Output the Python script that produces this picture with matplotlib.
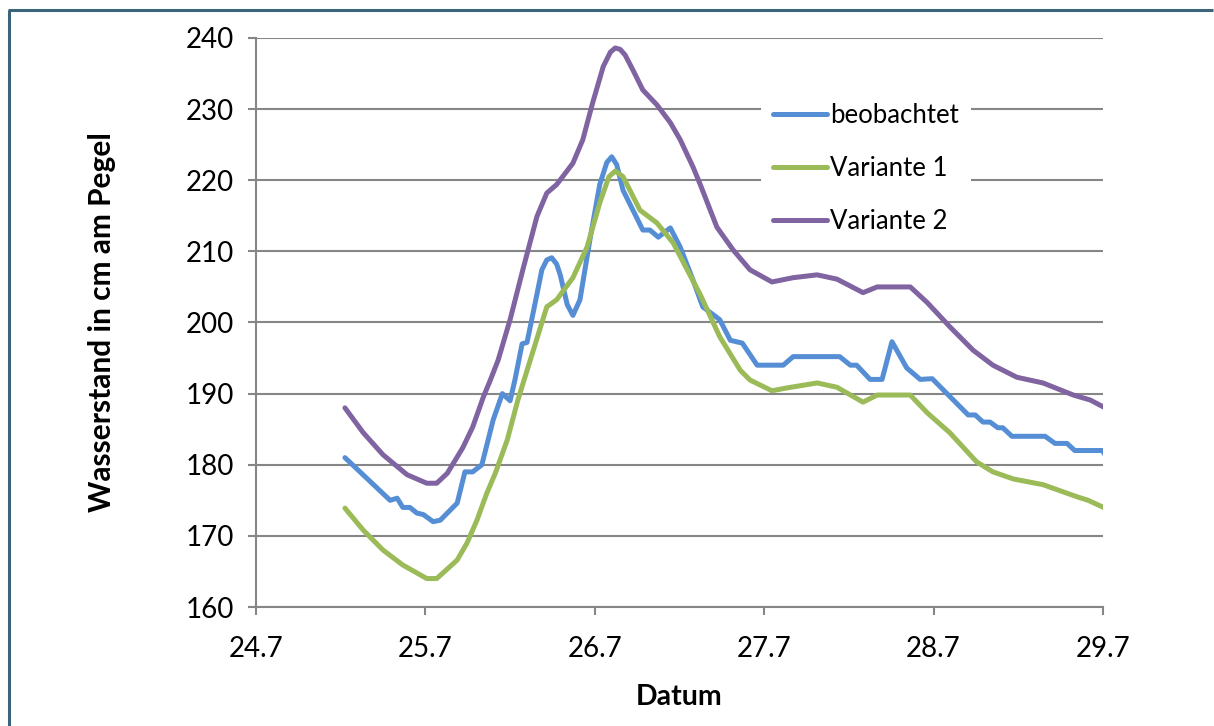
import matplotlib
matplotlib.use("Agg")
import matplotlib.pyplot as plt
from matplotlib.lines import Line2D

# Hours counted from 24.7. 00:00
hours_obs = [12.6, 19.0, 20.0, 20.8, 21.8, 22.8, 23.7, 25.1, 26.1, 28.5, 29.6, 30.7,
             32.0, 33.6, 34.9, 36.0, 36.7, 37.7, 38.4, 39.6, 40.5, 41.2, 41.9, 42.6,
             43.1, 44.1, 44.9, 45.9, 47.3, 48.7, 49.7, 50.4, 51.1, 52.0, 54.8, 55.8,
             57.0, 58.7, 60.1, 61.9, 63.3, 65.7, 67.2, 68.9, 71.0, 74.7, 76.1, 82.7,
             84.2, 85.1, 87.0, 88.7, 90.1, 92.2, 94.1, 95.8, 98.8, 100.9, 101.9, 103.0,
             104.0, 105.1, 105.8, 107.1, 111.8, 113.2, 114.9, 116.0, 119.9, 120.3]
beobachtet = [181.0, 175.0, 175.3, 174.0, 174.0, 173.2, 173.0, 172.0, 172.2, 174.6,
              179.0, 179.0, 180.0, 186.3, 190.0, 189.0, 192.0, 197.0, 197.2, 203.0,
              207.4, 208.8, 209.1, 208.2, 206.7, 202.5, 201.0, 203.2, 211.6, 219.4,
              222.5, 223.3, 222.2, 218.6, 213.0, 213.0, 212.0, 213.3, 210.6, 206.0,
              202.2, 200.4, 197.5, 197.1, 194.0, 194.0, 195.2, 195.2, 194.0, 194.0,
              192.0, 192.0, 197.3, 193.6, 192.0, 192.1, 189.1, 187.0, 187.0, 186.0,
              186.0, 185.2, 185.2, 184.0, 184.0, 183.0, 183.0, 182.0, 182.0, 181.4]

hours_v1 = [12.6, 15.2, 18.0, 20.8, 24.2, 25.6, 26.5, 28.5, 29.9, 31.3, 32.7, 33.9,
            35.6, 37.1, 41.2, 42.6, 44.9, 46.9, 48.7, 50.0, 50.9, 52.0, 54.4, 56.8,
            59.1, 61.1, 62.9, 65.7, 68.6, 70.0, 73.1, 75.2, 79.5, 82.3, 86.0, 88.0,
            92.7, 95.1, 98.3, 102.1, 104.4, 107.3, 111.5, 116.3, 117.9, 120.3]
variante_1 = [173.9, 170.8, 168.0, 165.9, 164.0, 164.0, 164.8, 166.6, 169.0, 172.2,
              176.0, 178.8, 183.5, 189.1, 202.2, 203.2, 206.3, 210.6, 216.8, 220.5,
              221.3, 220.5, 215.8, 214.0, 211.2, 207.4, 204.0, 198.0, 193.3, 191.9,
              190.4, 190.8, 191.5, 190.9, 188.8, 189.8, 189.8, 187.3, 184.5, 180.4,
              179.0, 178.0, 177.2, 175.5, 175.0, 173.9]

hours_v2 = [12.6, 15.2, 18.0, 21.4, 24.2, 25.6, 27.1, 29.3, 30.7, 32.2, 33.2, 34.3,
            36.0, 37.8, 39.8, 41.2, 42.6, 44.9, 46.3, 47.7, 49.2, 50.2, 50.9, 51.6,
            52.3, 53.4, 54.8, 56.8, 58.7, 60.1, 61.9, 62.9, 65.3, 67.6, 70.0, 73.1,
            76.1, 79.5, 82.3, 86.0, 88.0, 92.7, 95.1, 98.3, 101.6, 104.4, 107.8, 111.5,
            115.8, 118.2, 120.3]
variante_2 = [188.0, 184.5, 181.4, 178.6, 177.4, 177.4, 178.8, 182.4, 185.3, 189.5,
              191.9, 194.7, 200.4, 207.4, 214.9, 218.2, 219.4, 222.4, 225.7, 230.9,
              236.0, 238.0, 238.6, 238.4, 237.6, 235.5, 232.7, 230.6, 228.1, 225.7,
              221.9, 219.5, 213.4, 210.2, 207.4, 205.7, 206.3, 206.7, 206.1, 204.2,
              205.0, 205.0, 202.8, 199.4, 196.1, 194.0, 192.3, 191.5, 189.8, 189.1,
              188.0]

x_ticks = [0, 24, 48, 72, 96, 120]
x_labels = ["24.7", "25.7", "26.7", "27.7", "28.7", "29.7"]
y_ticks = [160, 170, 180, 190, 200, 210, 220, 230, 240]

series_names = ["beobachtet", "Variante 1", "Variante 2"]
colors = ["#558ED5", "#9BBB59", "#8064A2"]

plt.rcParams["font.family"] = ["Lato", "DejaVu Sans"]

fig = plt.figure(figsize=(12.14, 7.26), dpi=100)
ax = fig.add_axes([256 / 1214, 1 - 607 / 726, (1103 - 256) / 1214, (607 - 38) / 726])

grid_c = "#868686"
for xs, ys, name, c in zip([hours_obs, hours_v1, hours_v2],
                           [beobachtet, variante_1, variante_2],
                           series_names, colors):
    ax.plot(xs, ys, color=c, lw=3.6, label=name,
            solid_joinstyle="round", solid_capstyle="round", zorder=3)

ax.set_xlim(0, 120)
ax.set_ylim(160, 240)
ax.set_xticks(x_ticks)
ax.set_xticklabels(x_labels)
ax.set_yticks(y_ticks)
ax.yaxis.grid(True, color=grid_c, lw=1.5)
ax.set_axisbelow(True)
for s in ["top", "right"]:
    ax.spines[s].set_visible(False)
for s in ["left", "bottom"]:
    ax.spines[s].set_color(grid_c)
    ax.spines[s].set_linewidth(1.5)
ax.tick_params(axis="both", colors=grid_c, labelcolor="black", labelsize=20,
               length=6, width=1.5, direction="out")
ax.tick_params(axis="x", pad=15)
ax.tick_params(axis="y", pad=10)

ax.set_xlabel("Datum", fontsize=20.5, fontweight="bold", labelpad=16)
ax.set_ylabel("Wasserstand in cm am Pegel", fontsize=21.5, fontweight="bold",
              labelpad=50)

leg = ax.legend(loc="upper left", bbox_to_anchor=(761 / 1214, 1 - 91 / 726),
                bbox_transform=fig.transFigure, fontsize=18.5, frameon=True,
                fancybox=False, edgecolor="none", facecolor="white", framealpha=1,
                handlelength=2.1, handletextpad=0.15, labelspacing=1.1,
                borderpad=0.45, borderaxespad=0)
leg.set_zorder(5)

# outer chart frame (top and left edges)
frame_c = "#3C6478"
fig.add_artist(Line2D([8 / 1214, 0.999], [1 - 10 / 726, 1 - 10 / 726],
                      transform=fig.transFigure, color=frame_c, lw=2.2,
                      solid_capstyle="butt"))
fig.add_artist(Line2D([9 / 1214, 9 / 1214], [0, 1 - 10 / 726],
                      transform=fig.transFigure, color=frame_c, lw=2.2,
                      solid_capstyle="butt"))

fig.savefig("out.png", dpi=100, facecolor="white")
